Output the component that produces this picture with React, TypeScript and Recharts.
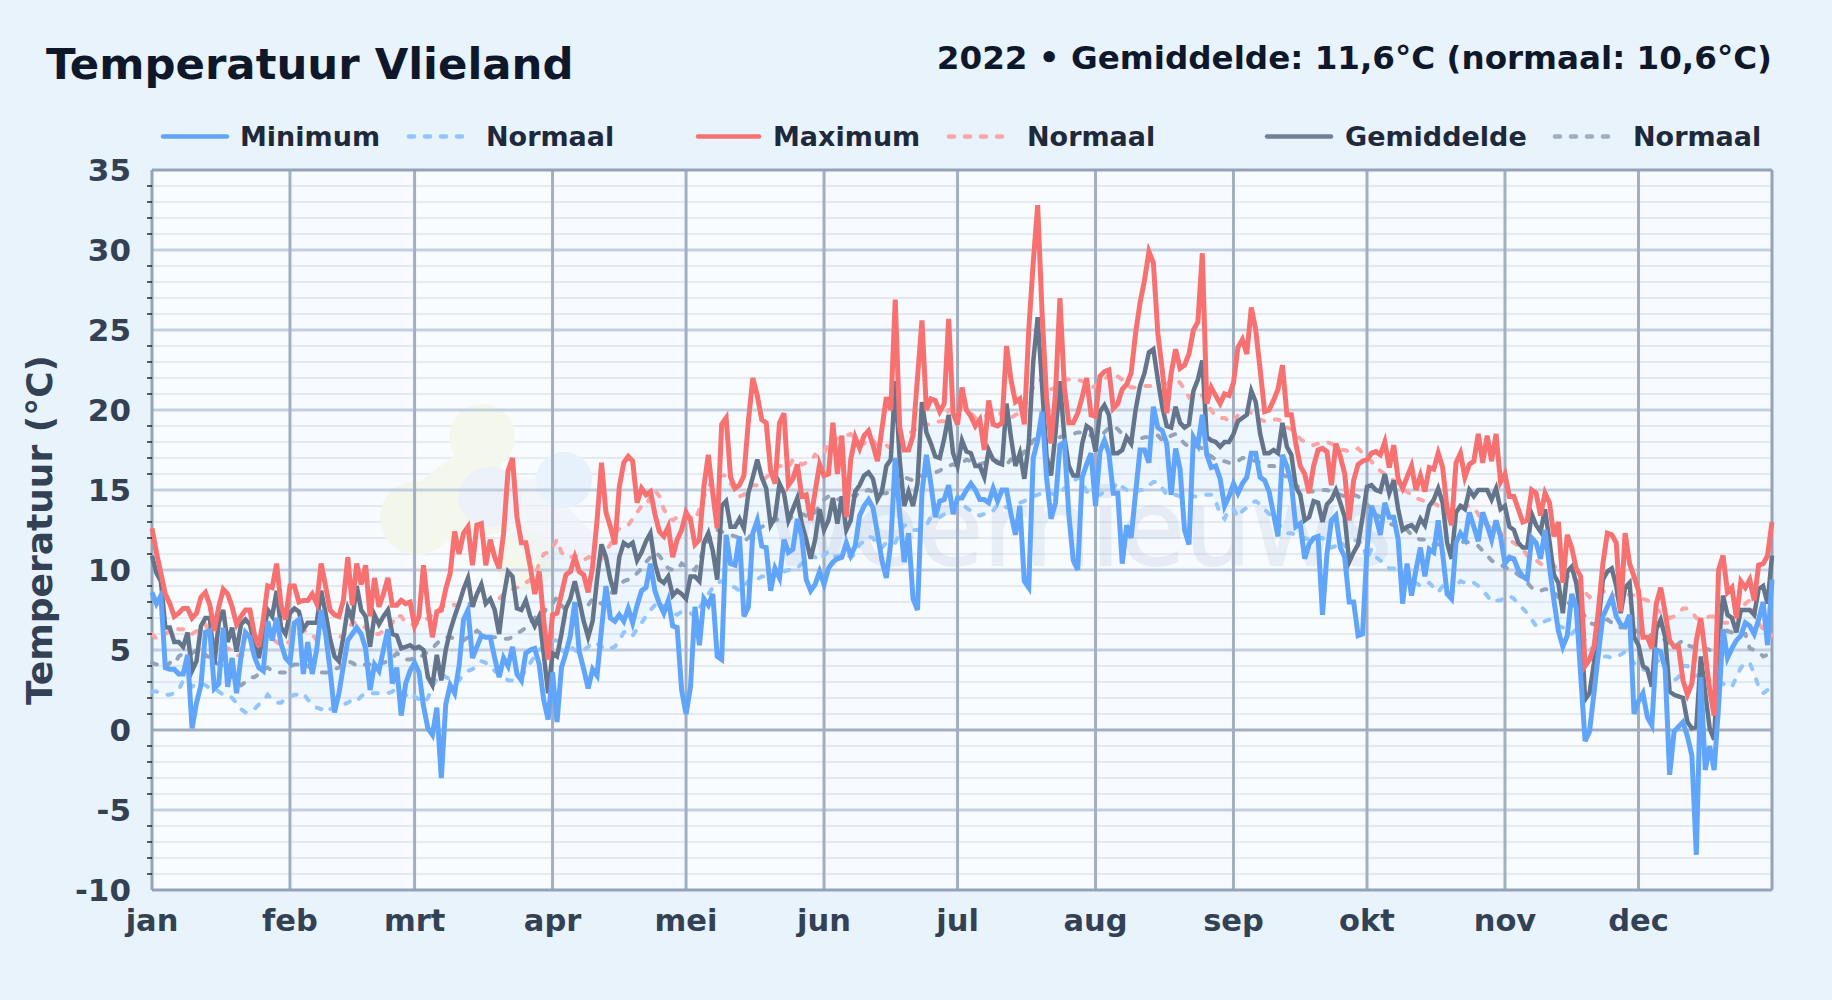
import {
  ComposedChart,
  Area,
  Line,
  XAxis,
  YAxis,
  CartesianGrid,
  ReferenceLine,
  ReferenceArea,
} from 'recharts';

const monthStarts = [0, 31, 59, 90, 120, 151, 181, 212, 243, 273, 304, 334];
const monthLabels = ['jan', 'feb', 'mrt', 'apr', 'mei', 'jun', 'jul', 'aug', 'sep', 'okt', 'nov', 'dec'];
const shadedMonths = [[31, 59], [90, 120], [151, 181], [212, 243], [273, 304], [334, 364]];
const yTicks = [-10, -9, -8, -7, -6, -5, -4, -3, -2, -1, 0, 1, 2, 3, 4, 5, 6, 7, 8, 9, 10, 11, 12, 13, 14, 15, 16, 17, 18, 19, 20, 21, 22, 23, 24, 25, 26, 27, 28, 29, 30, 31, 32, 33, 34, 35];
const yMajor = [-5, 5, 10, 15, 20, 25, 30];

const minT = [
  8.6,7.9,8.4,3.9,3.8,3.8,3.5,3.5,4.7,0.1,
  1.7,2.8,6.1,6.2,2.6,2.9,6.4,2.7,4.5,2.3,
  4.6,6.1,5.8,4.6,3.9,3.7,6.8,5.6,7,5.4,
  4.5,4.2,6.7,6.9,3.5,5.5,3.5,5,7.5,6,
  3.8,1.1,2.3,4,5.6,6,6.4,6,5.1,2.5,
  4.1,3.7,5,6.3,2.9,3.9,0.9,2.9,3.7,4.2,
  3.6,1.5,0.1,-0.3,1.4,-3,1.6,2.8,2.3,4,
  6.9,7.5,4.5,5.2,5.9,5.8,5.8,4.5,3.3,4.5,
  4,5.2,3.5,3.1,4.8,5,5.1,4.1,1.9,0.65,
  3.6,0.5,3.9,4.8,5.9,8,4.9,3.8,2.6,3.8,
  3.4,6.3,9,7,6.8,7.2,6.8,7.6,6.7,7.8,
  8.7,8.9,10.4,8.7,7.9,7.3,8.1,6.5,6.4,2.5,
  1,2.7,7.7,5.3,8.2,7.8,8.5,4.6,4.4,12.2,
  10.4,10.3,12.1,7.1,7.7,12.3,13.1,11.5,11.4,8.7,
  10.1,9.5,11.9,11.1,11.3,13.2,12.1,9.4,8.7,9.1,
  9.9,9.1,10.1,10.5,10.7,10.8,11.7,10.9,11.5,13.4,
  14,14.4,13.9,12.3,10.6,9.5,11.7,17,13.5,10.5,
  12.3,8.2,7.5,14.8,17.2,15.4,13.3,14.3,14.4,15.3,
  13.5,14.5,14.5,15,15.4,15,14.4,14.4,14.2,15.1,
  14.3,15,15,13.5,12.2,14,9.3,8.9,17,18.1,
  19.9,15.8,13.2,14.2,17.8,18,13.5,10.6,10,15.8,
  16.6,17.3,14,17.4,18.1,17.3,14.8,14.8,10.4,12.8,
  12,14.8,17.5,17.5,16.7,20.2,18.9,18.7,17.9,14.7,
  17.6,16.3,12.5,11.6,18.3,17.8,19.7,17.2,16.4,16.5,
  15.7,14,14.6,15.4,14.8,15.4,15.8,17.3,17.3,15.8,
  15.6,14.9,13.5,12.1,17.2,16.5,15.4,12.7,12.9,10.7,
  11.6,12,12.1,7.2,11,13.1,13.4,11.4,10.8,8,
  8,5.9,6,11.3,14,13.3,12.2,14.2,13.3,13.3,
  11.9,7.9,10.4,8.4,10,11.4,9.6,11.3,11.1,13.1,
  11,8.5,8.2,11.7,12.3,11.9,13.6,12.7,11.8,13.6,
  12.8,11.9,13.1,12.1,10.4,10.8,10.7,10,9.6,9.4,
  12,11.7,10.7,12.5,10.2,8.1,6.2,5.2,5.9,8.5,
  7.7,3.5,-0.7,-0.1,2.3,4.8,7.1,7.7,8.3,7.1,
  6.6,6.5,7.2,1,1.8,2.3,0.8,0.3,5,4.9,
  3.8,-2.8,-0.1,0.2,0.5,-0.4,-1.6,-7.8,3.3,-2.5,
  -1,-2.5,1.5,6.3,4.5,5.1,5.6,5.9,6.7,6.5,
  6,6.9,8,5.3,9.4,
];

const maxT = [
  12.6,11.1,9.8,8.5,7.9,7.1,7.3,7.6,7.6,7,
  7.3,8.3,8.6,7.8,6.2,7.7,8.8,8.5,7.7,6.6,
  7.1,7.5,7.5,6,5.2,6.9,9,8.9,10.4,7.8,
  6.9,9,9,8,8.1,8.1,8.5,7.9,10.4,9,
  7.5,7.2,7.1,8.1,10.8,7.8,10.4,9.1,10.3,7.1,
  9.5,7.7,8.5,9.5,7.8,7.8,8.1,7.9,8,6.5,
  7.1,10.3,7.7,5.8,7.4,7.5,8.8,9.8,12.4,11,
  12.3,12.7,10.3,12.8,12.9,10.3,11.9,10.8,10.1,12.3,
  16.2,17,13.3,11.7,11.7,10.2,8.5,9.9,6.9,4.4,
  7.2,7.3,8.5,9.7,9.9,10.8,9.9,9.7,8.6,10.2,
  13.1,16.7,13.6,12.7,11.6,15.2,16.7,17.1,16.8,14.2,
  15.1,14.7,14.9,13.5,12.4,12.1,12.7,10.8,11.9,12.5,
  13.6,13.1,11.6,11.9,15.2,17.2,14.8,12.6,19.1,19.5,
  15.8,15.1,15.3,15.9,19.3,22,20.9,19.4,19.2,16.2,
  15.4,19.2,19.8,15.3,15.7,16.6,14.6,14.7,13.1,14.9,
  16.6,15.9,16,19.2,16,18.4,13.3,16.9,18.3,17.6,
  18.4,18.7,17.8,16.8,18.8,20.8,20,26.9,18.9,17.5,
  17.5,18.4,22,25.6,20,20.7,20.6,19.9,20.4,25.7,
  19.8,19.1,21.4,20,19.6,19,19.4,17.5,20.6,19.1,
  19,19.2,24,21.9,20.5,20.7,19.1,25,29.2,32.8,
  26,20.8,17.9,21,27,21.4,19.2,19.2,19.8,20.8,
  22,19.7,19.6,22.1,22.4,22.5,20.1,20.4,21.3,21.6,
  22.3,24.8,26.7,28.1,29.9,29.2,24.8,22.5,19.8,22.3,
  23.8,22.6,22.8,23.5,25,25.5,29.8,20.4,21.4,20.9,
  20.4,21,20.9,21.7,23.9,24.4,23.5,26.4,25,22.5,
  19.9,20,20.6,21.3,22.8,19.7,19.7,17.9,16.5,16,
  14.8,16.5,17.5,17.6,17.4,15.3,17.9,17.1,16,13.1,
  15.6,16.6,16.8,16.9,17.3,17.4,17.2,18,16.4,17.8,
  15.7,15.1,15.8,16.5,15,15.9,14.9,16.4,16.3,17.3,
  16.4,13.8,12.8,16.7,17.3,15.8,16.6,16.8,18.5,16.7,
  18.4,16.8,18.5,15.5,16,14.6,14.6,13.8,13,13.1,
  15,14.8,13.4,14.8,14.2,12.1,13,9.2,12.2,11.4,
  10.1,9.6,4,4.4,5.2,7.5,10.4,12.3,12.2,11.7,
  7.4,12.3,10.4,9.6,8.7,5.8,5.8,5.1,7.9,8.9,
  7.3,5.6,5.2,5.2,3.1,2.2,2.9,5.6,7,4.8,
  2.5,0.9,10,10.9,8.6,8.9,7,9.3,8.9,9.4,
  8.1,10.3,10.4,10.9,13,
];

const meanT = [
  10.9,9.8,9.3,6.4,6.4,5.5,5.5,5.2,6.1,3.7,
  4.3,6.5,7,7,4.1,6.7,7.5,5.5,6.4,4.9,
  6.6,6.9,6.6,5.4,4.5,6,7.5,7.1,8.7,6.4,
  6,7.3,7.6,7.4,6.3,6.7,6.7,6.7,8.7,7.3,
  5.7,4.6,4.3,5.8,7.6,6.9,9,7.5,7.1,5.2,
  7.2,6.6,7.1,7.5,6,5.9,5.1,5.2,5.3,5.1,
  5.2,5,3.3,2.8,4.7,3.1,5,6.2,7.1,7.9,
  8.8,9.5,7.7,8.5,9.1,7.9,8.2,7.5,6,8.3,
  9.9,9.6,7.6,7.5,8.1,7.1,6.5,7.1,4.8,2.3,
  4.8,4.6,6,7.6,8.2,9.3,8.1,6.8,5.8,6.8,
  9.4,11.6,10.8,9.4,8.5,10.8,11.7,11.5,11.7,10.6,
  11.1,11.8,12.3,10.4,9.4,9.2,9.6,8.4,8.7,8.5,
  8.2,9.6,9.6,9.3,11.7,12.3,11.2,9.4,14,14.3,
  12.7,12.7,13.2,12.6,14.8,15.8,16.9,15.8,15.1,12.8,
  13.3,15.4,14.8,13.1,13.8,14.5,12.9,11.9,10.7,11.9,
  13.8,12.5,13.1,14.5,12.9,14.6,12.5,13.1,14.9,15.3,
  15.9,16.1,15.7,14.4,14.9,16.5,16.9,21.8,16.9,14,
  14.9,14,15.4,20.5,18.6,17.9,17.1,17,18.2,19.7,
  17.3,16.5,18.1,17.4,17.3,16.5,16.5,15.8,17.5,16.9,
  16.7,16.6,20.4,18.3,16.5,17.3,15.7,17.9,23,25.8,
  21.5,17.1,15.9,18.5,21.8,18.3,16.5,15.9,15.9,17.9,
  19,18.8,17.4,19.9,20.3,19.7,17.3,17.3,17.5,18.3,
  17.9,20,21.5,22.3,23.6,23.8,21.9,20.2,19,18.9,
  20.2,19.2,18.9,19.1,21.2,21.9,23.1,18.3,18.1,18,
  17.7,18,18,18.5,19.3,19.5,19.7,21.2,20.5,18.5,
  17.3,17.3,17.5,17.3,19.2,17.7,17.2,15.2,14.7,13.1,
  13.3,14.3,14.2,13,14.1,14.4,15,14.2,13.3,10.5,
  11.1,11.6,13.3,15.2,15.3,15,14.9,16,14.8,15.6,
  13.8,12.5,12.7,12.8,12.5,13.2,12.8,14,14.4,15.1,
  14.2,11.7,10.7,13.6,14,13.8,15,14.6,15,15,
  15,14.4,15.1,13.8,14,12.7,12.5,11.7,11.4,11.4,
  13.5,12.8,12.4,13.8,11.8,9.7,9.2,7.3,9.9,10.2,
  9.2,7.3,1.9,2.3,4.2,6.7,9.4,9.9,10.1,9,
  7.3,8.9,9.2,5.8,5.3,4,3.8,2.7,6.3,6.9,
  5.8,2.4,2.2,2.1,2,0.5,0.1,0.2,4.6,2.3,
  0.1,-0.6,5.2,8.4,7.2,7,6.1,7.5,7.5,7.5,
  7.2,8.8,9,7.9,10.9,
];

const normalMin = [
  2.4,2.4,2.3,2.2,2.2,2.3,2.5,3.1,3.1,2.7,
  2.9,2.9,2.8,2.6,2.6,2.4,2.2,2.2,2,1.7,
  1.3,1.1,1.1,1.3,1.6,1.8,2.2,1.9,1.7,1.7,
  2,2.1,2.2,2.2,2.3,1.9,1.6,1.4,1.3,1.5,
  1.3,1.4,1.5,1.6,1.7,1.9,1.8,2.1,2.3,2.3,
  2.3,2.3,2.3,2.3,2.4,2.6,2.4,2.2,1.9,2.1,
  1.9,1.7,2,2.7,3.2,3.5,3.3,3.2,3,3.1,
  3.5,3.7,3.8,4,4.3,4.2,3.9,3.7,3.5,3.3,
  3.1,3.1,3.2,3.3,3.8,4.2,4.6,5,5.2,5.6,
  5.6,5.6,5,4.8,5.2,5,4.8,5,5.2,5.5,
  5.4,5.2,5,5.1,5.2,5.6,6.1,6.2,5.9,6.3,
  6.7,7.1,7.5,7.8,8,7.7,7.5,7.3,7.2,7.4,
  7.4,7.3,7.1,7.6,8.1,8.5,8.9,9.2,9.3,9.1,
  9,8.9,8.7,9,9.3,9.2,9.4,9.6,9.6,9.5,
  9.7,10.1,9.9,10,10,10.1,10.4,10.7,10.9,10.8,
  10.6,10.9,11.2,10.9,10.8,11,11,10.8,11,11.6,
  11.8,12.1,12,11.6,11.4,11.7,11.8,11.7,12.3,12.8,
  12.8,12.5,12.5,12.6,12.8,13.3,13.4,13.3,13.5,13.8,
  14,13.9,14.1,13.9,13.7,13.5,13.4,13.5,13.5,13.7,
  14.1,14.1,13.9,14,14.1,14.2,14.3,14.5,14.6,14.7,
  14.8,14.8,14.8,14.7,14.7,15.1,15.3,15.5,15.8,15.5,
  14.9,14.8,14.7,14.7,14.9,15,15.1,15.5,15.2,15,
  14.9,14.9,15,15,15.3,15.5,15.5,15.1,14.7,14.7,
  14.7,14.6,14.7,14.7,14.6,14.6,14.7,14.7,14.7,14.3,
  13.5,13.2,13.8,13.8,13.3,13.7,13.9,14.2,14.3,14.1,
  13.8,13.5,13.3,12.9,12.6,12.3,12.3,12.2,12,12,
  11.9,12,12,12,11.7,11.4,11.5,11.8,11.5,11.7,
  11.9,11.8,11.7,10.6,11.3,10.8,10.6,10.3,10.1,10.1,
  10.1,10,9.6,9.3,9.2,9,9,9.2,8.9,8.6,
  9,8.9,8.5,9,9.3,9.2,9.3,9.2,9,8.7,
  8.4,8,8.1,8.1,8.3,8.4,8.2,7.9,7.6,7.3,
  6.9,6.5,6.6,6.8,6.9,6.7,6.5,6.4,6.2,6,
  6.3,6.2,5.6,5.2,5,4.8,4.6,4.6,4.5,4.6,
  4.7,4.9,4.5,4.2,3.9,3.8,3.7,4,4.4,4.2,
  3.9,3.4,3.1,3.3,4,4,3.3,3.4,3.5,3.2,
  3.1,3.2,3,2.9,2.7,2.7,3.3,3.9,4.2,4.2,
  3.5,2.7,2.3,2.5,2.7,
];

const normalMax = [
  6,5.7,5.8,6,6.2,6.4,6.3,6.3,6,6,
  6.2,6.5,6.6,6,5.6,5.5,5.2,5.1,5,4.7,
  4.6,4.8,5,5.2,5.4,5.8,6,5.7,5.5,5.3,
  5.3,5.6,5.8,6,6.2,6.2,6,5.6,5.4,5.4,
  5.6,5.8,5.8,5.9,6.3,6.7,6.7,6.5,6.4,6,
  6,6,6.2,6.4,6.7,7.2,7.1,6.7,6.6,6.6,
  6.7,6.8,7,7.2,7.4,7.7,7.8,7.9,7.8,7.8,
  7.9,7.9,7.8,7.8,7.9,8,8.1,8.1,8.2,8.5,
  8.7,8.8,8.9,9,9.2,9.4,9.6,10.4,11,11.1,
  11.4,11.9,11.1,10.8,10.8,10.9,10.8,10.6,10.8,10.8,
  10.9,10.7,11.2,11.6,12.3,12.6,12.7,12.8,13.2,13.6,
  14,14,14.6,15,14.6,13.8,13.3,13.1,13.3,13.3,
  13.3,13.3,13.1,13.8,14.6,15.1,15.7,16,15.9,15.9,
  15.4,15,14.6,14.7,15.1,15.3,15.3,15.5,15.8,16,
  16.4,16.5,16.5,16.4,16.9,16.9,16.6,16.7,16.8,17.2,
  17,17.3,18,18.2,18.2,18.3,18.4,18.5,18.2,17.9,
  17.9,18.2,18.1,17.8,17.9,17.8,17.6,17.7,18.2,18.4,
  18.5,18.7,18.9,19.2,19.1,19.1,19.2,19.3,19.3,20,
  20.1,19.9,20.2,20.2,19.8,19.5,19.6,19.6,19.7,19.6,
  19.6,19.9,19.8,19.5,19.7,19.8,20.2,20.8,21.4,21.8,
  21.9,21.4,21.3,21.4,21.7,21.9,21.9,21.9,21.9,21.8,
  21.7,21.4,21.5,21.7,21.9,22.2,22.4,22.1,21.9,21.6,
  21.4,21.4,21.5,21.5,21.5,21.5,21.4,21,21.6,21.9,
  22,21.7,21.3,20.8,21,21,20.9,20.4,20,19.6,
  19.5,19.5,19.3,19.2,19.7,19.9,20,19.8,19.5,19.4,
  19.3,19.3,19.4,19.4,19.3,18.9,18.8,18.5,18.2,18,
  17.9,17.8,17.9,17.9,18,17.9,17.7,17.5,17.5,17.4,
  17.5,17.6,17.3,17,16.8,16.4,16.2,16,15.8,15.6,
  15.3,15.1,14.9,14.7,14.5,14.4,14.3,14.2,14.2,14,
  14,13.8,13.8,13.9,14,14,14,13.9,13.5,13,
  12.8,12.6,12.5,12.3,12.1,11.9,11.7,11.5,11.3,10.9,
  10.8,10.6,10.4,10.2,10.2,10.3,10,9.8,9.6,9.6,
  9.4,9,8.6,8.3,8.5,8.5,8.7,8.5,8.4,8.4,
  8.3,8.3,8.5,8.4,8.3,8.2,8.1,7.9,7.6,7.3,
  7.1,7,7.1,7.3,7.6,7.6,7.4,7,6.9,7,
  7.1,7.1,6.9,6.7,6.7,6.8,7,7.5,7.9,8.1,
  7.3,6.7,6.3,6,5.9,
];

const normalMean = [
  4.2,4.1,4,3.9,4.2,4.1,4.6,4.8,4.8,4.8,
  5,5,4.7,4.5,4.3,4.1,4,3.8,3.3,3,
  2.8,3,3.3,3.3,3.5,3.8,3.9,3.7,3.6,3.6,
  3.6,3.9,4.1,4.1,4.2,4,3.8,3.7,3.6,3.6,
  3.6,3.8,3.9,4.1,4.3,4.2,4,4,4.1,4.1,
  4.1,4.2,4.2,4.3,4.5,4.8,4.6,4.4,4.4,4.5,
  4.5,4.7,4.9,5.1,5.4,5.7,5.8,5.8,5.7,5.6,
  5.6,5.8,6,6.2,6,5.9,5.8,5.8,5.8,5.7,
  5.7,5.8,6,6.2,6.4,6.7,7,7.4,7.3,7.8,
  7.9,8.3,7.8,7.5,7.5,7.7,7.9,7.8,7.8,8.2,
  8,7.9,8.2,8.5,8.8,9,9.3,9.4,9.5,9.8,
  10.1,10.5,10.8,11.1,10.9,10.5,10.1,10,10,10.4,
  10.2,10.1,10,10.6,11.3,11.9,12.3,12.5,12.4,12.3,
  12.2,12.1,12,11.8,12,12.3,12.5,12.7,12.8,12.9,
  13.1,13.2,13.1,13.1,13.4,13.5,13.5,13.4,13.3,13.6,
  14,14.4,14.6,14.4,14.4,14.5,14.6,14.7,14.6,14.9,
  14.9,15,14.9,14.8,14.8,14.8,14.9,15.1,15.6,15.8,
  15.7,15.6,15.8,15.9,15.9,16,16.1,16.2,16.4,16.5,
  16.6,16.5,16.7,16.9,16.8,16.7,16.6,16.7,16.8,16.9,
  16.8,16.6,16.6,16.9,16.9,17,17.4,17.6,18.1,18.3,
  18.2,18.1,18.1,18.2,18.3,18.4,18.5,18.5,18.6,18.6,
  18.5,18.4,18.3,18.3,18.6,18.9,19,18.8,18.5,18.2,
  18,18,18.2,18.3,18.3,18.4,18.4,18.1,18.2,18.4,
  18.5,18.2,17.9,17.7,17.7,17.7,17.6,17.3,17.1,16.9,
  16.8,16.8,16.7,16.7,16.8,17,17,16.9,16.8,16.7,
  16.6,16.5,16.5,16.4,16,15.8,15.5,15.3,15.1,15.1,
  15,14.9,15,15,15,14.9,14.8,14.7,14.6,14.7,
  14.7,14.6,14.3,14.1,13.8,13.5,13.3,13.1,12.9,12.8,
  12.7,12.6,12.5,12.2,12,11.9,11.9,11.8,11.6,11.6,
  11.7,11.5,11.5,11.7,11.7,11.8,11.7,11.6,11.5,11.2,
  10.9,10.6,10.4,10.3,10.2,10,9.9,9.7,9.5,9.2,
  8.9,8.7,8.7,8.8,8.8,8.6,8.3,8.2,8,7.8,
  7.7,7.5,7.1,6.7,6.6,6.7,6.8,6.9,6.7,6.5,
  6.4,6.4,6.3,6.3,6.1,6,6,5.9,6,5.9,
  5.6,5.3,5.2,5.4,5.6,5.3,5.2,5.2,5.2,5.1,
  5,5.1,5.3,5.6,6.2,6.1,6,6,6,5.1,
  5,4.9,4.6,4.7,4.8,
];

const legendItems = [
  { label: 'Minimum', color: '#60a5fa', dashed: false, x1: 163, x2: 227, textX: 240 },
  { label: 'Normaal', color: '#93c5fd', dashed: true, x1: 409, x2: 465, textX: 486 },
  { label: 'Maximum', color: '#f87171', dashed: false, x1: 698, x2: 759, textX: 773 },
  { label: 'Normaal', color: '#fca5a5', dashed: true, x1: 949, x2: 1005, textX: 1027 },
  { label: 'Gemiddelde', color: '#718096', dashed: false, x1: 1267, x2: 1331, textX: 1345 },
  { label: 'Normaal', color: '#a0aec0', dashed: true, x1: 1555, x2: 1618, textX: 1633 },
];

const data = minT.map((v, i) => ({
  day: i,
  min: v,
  max: maxT[i],
  mean: meanT[i],
  nMin: normalMin[i],
  nMax: normalMax[i],
  nMean: normalMean[i],
  band: [normalMin[i], normalMax[i]],
}));

const font = '"DejaVu Sans", sans-serif';

function YTick({ y, payload }: any) {
  if (payload.value % 5 !== 0) {
    return <line x1={147} x2={152} y1={y} y2={y} stroke="#1f2937" strokeWidth={1.5} />;
  }
  return (
    <text x={131} y={y} textAnchor="end" dominantBaseline="central" fontFamily={font} fontSize={31} fontWeight={700} fill="#334155">
      {payload.value}
    </text>
  );
}

function XTick({ x, payload }: any) {
  return (
    <text x={x} y={931} textAnchor="middle" fontFamily={font} fontSize={30.5} fontWeight={700} fill="#334155">
      {monthLabels[monthStarts.indexOf(payload.value)]}
    </text>
  );
}

export default function App() {
  return (
    <div style={{ position: 'absolute', left: 0, top: 0, width: 1832, height: 1000, background: '#e9f3fc', fontFamily: font }}>
      <div style={{ position: 'absolute', left: 46, top: 39, fontSize: 43.4, fontWeight: 700, color: '#0f172a', whiteSpace: 'nowrap' }}>
        Temperatuur Vlieland
      </div>
      <div style={{ position: 'absolute', right: 60, top: 39, fontSize: 32.6, fontWeight: 700, color: '#0f172a', whiteSpace: 'nowrap' }}>
        2022 • Gemiddelde: 11,6°C (normaal: 10,6°C)
      </div>
      <svg width={1832} height={170} style={{ position: 'absolute', left: 0, top: 0 }}>
        {legendItems.map((item) => (
          <g key={item.x1}>
            <line
              x1={item.x1}
              x2={item.x2}
              y1={136.5}
              y2={136.5}
              stroke={item.color}
              strokeWidth={item.dashed ? 4.5 : 4.5}
              strokeLinecap="round"
              strokeDasharray={item.dashed ? '5 11' : undefined}
            />
            <text x={item.textX} y={146} fontFamily={font} fontSize={27} fontWeight={700} fill="#1e293b">
              {item.label}
            </text>
          </g>
        ))}
      </svg>
      <ComposedChart
        width={1832}
        height={1000}
        data={data}
        margin={{ top: 170, right: 60, bottom: 70, left: 72 }}
        style={{ position: 'absolute', left: 0, top: 0 }}
      >
        <CartesianGrid
          vertical={false}
          stroke="#e6ebf2"
          strokeWidth={2}
          fill="#f9fcff"
          syncWithTicks
        />
        {shadedMonths.map(([a, b]) => (
          <ReferenceArea key={a} x1={a} x2={b} fill="#94a3b8" fillOpacity={0.02} stroke="none" />
        ))}
        <g>
          <circle cx={482} cy={437} r={33} fill="#f4f8ec" />
          <circle cx={417} cy={518} r={37} fill="#f4f8ec" />
          <circle cx={525} cy={560} r={30} fill="#f4f8ec" />
          <path d="M455 455 L415 485 L450 545 L510 530 L500 460 Z" fill="#f4f8ec" />
          <ellipse cx={490} cy={497} rx={32} ry={30} fill="#ecf1f9" />
          <path d="M480 470 L540 480 L590 530 L620 560 L530 560 L500 525 Z" fill="#ecf1f9" opacity={0.6} />
          <circle cx={564} cy={480} r={28} fill="#e8f3fd" />
          <text x={1392} y={565} textAnchor="end" fontFamily={font} fontSize={105} fontWeight={400} fill="#1e4a8a" stroke="#1e4a8a" strokeWidth={2} opacity={0.07}>
            weernieuws
          </text>
        </g>
        {yMajor.map((v) => (
          <ReferenceLine key={v} y={v} stroke="#c3cfdf" strokeWidth={3} />
        ))}
        {monthStarts.slice(1).map((m) => (
          <ReferenceLine key={m} x={m} stroke="#a3afc1" strokeWidth={3} />
        ))}
        <ReferenceLine y={0} stroke="#a3afc1" strokeWidth={3} />
        <ReferenceLine y={35} stroke="#94a3b8" strokeWidth={3} />
        <ReferenceLine y={-10} stroke="#94a3b8" strokeWidth={3} />
        <ReferenceLine x={0} stroke="#94a3b8" strokeWidth={3} />
        <ReferenceLine x={364} stroke="#94a3b8" strokeWidth={3} />
        <XAxis
          dataKey="day"
          type="number"
          domain={[0, 364]}
          ticks={monthStarts}
          tick={<XTick />}
          tickLine={false}
          axisLine={false}
          height={40}
          interval={0}
        />
        <YAxis
          type="number"
          domain={[-10, 35]}
          ticks={yTicks}
          tick={<YTick />}
          tickLine={false}
          axisLine={false}
          width={80}
          interval={0}
        />
        <Area dataKey="band" stroke="none" fill="#93c5fd" fillOpacity={0.09} isAnimationActive={false} dot={false} activeDot={false} />
        <Line dataKey="nMin" stroke="#93c5fd" strokeWidth={4} strokeLinecap="round" strokeDasharray="5 11" dot={false} isAnimationActive={false} />
        <Line dataKey="nMax" stroke="#fca5a5" strokeWidth={4} strokeLinecap="round" strokeDasharray="5 11" dot={false} isAnimationActive={false} />
        <Line dataKey="nMean" stroke="#94a3b8" strokeWidth={4} strokeLinecap="round" strokeDasharray="5 11" dot={false} isAnimationActive={false} />
        <Line dataKey="mean" stroke="#64748b" strokeWidth={4.5} dot={false} isAnimationActive={false} />
        <Line dataKey="min" stroke="#60a5fa" strokeWidth={5} dot={false} isAnimationActive={false} />
        <Line dataKey="max" stroke="#f87171" strokeWidth={5} dot={false} isAnimationActive={false} />
        <text
          x={39}
          y={530}
          transform="rotate(-90 39 530)"
          textAnchor="middle"
          dominantBaseline="central"
          fontFamily={font}
          fontSize={36}
          fontWeight={700}
          fill="#334155"
        >
          Temperatuur (°C)
        </text>
      </ComposedChart>
    </div>
  );
}
